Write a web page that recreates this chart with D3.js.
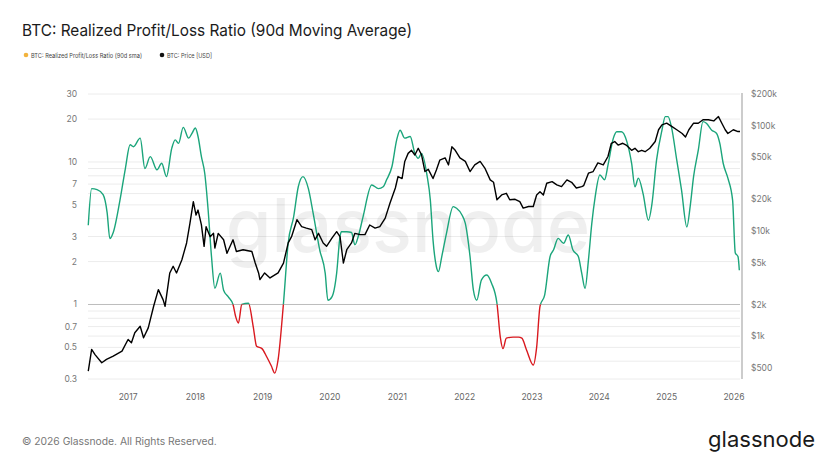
<!DOCTYPE html>
<html>
<head>
<meta charset="utf-8">
<script src="https://cdn.jsdelivr.net/npm/d3@7"></script>
<style>
  body { margin: 0; background: #fff; }
  svg { display: block; font-family: Inter, "Noto Sans", sans-serif; }
</style>
</head>
<body>
<script>
// values: [decimal year, value]
var ratioSeries = [
  [2016.41, 3.6], [2016.46, 6.5], [2016.54, 6.4], [2016.63, 5.9], [2016.69, 4.4], [2016.73, 2.9],
  [2016.78, 3.2], [2016.88, 5.4], [2016.96, 9.0], [2017.03, 13.2], [2017.08, 12.8], [2017.18, 14.7],
  [2017.25, 9.0], [2017.33, 10.9], [2017.43, 8.8], [2017.50, 9.8], [2017.57, 7.9], [2017.65, 12.5],
  [2017.70, 14.3], [2017.75, 13.5], [2017.82, 17.5], [2017.90, 14.7], [2017.95, 15.9], [2018.00, 17.3],
  [2018.04, 15.1], [2018.09, 10.9], [2018.14, 8.3], [2018.19, 4.6], [2018.24, 2.17], [2018.29, 1.3],
  [2018.37, 1.66], [2018.42, 1.26], [2018.49, 1.13], [2018.56, 1.0], [2018.60, 0.82], [2018.64, 0.74],
  [2018.69, 1.0], [2018.79, 1.02], [2018.86, 0.70], [2018.91, 0.51], [2018.99, 0.49], [2019.06, 0.43],
  [2019.13, 0.37], [2019.18, 0.33], [2019.23, 0.41], [2019.31, 1.02], [2019.38, 2.7], [2019.46, 4.1],
  [2019.53, 6.7], [2019.60, 7.9], [2019.68, 6.5], [2019.75, 4.4], [2019.85, 2.4], [2019.93, 1.66],
  [2019.97, 1.07], [2020.03, 1.13], [2020.10, 1.66], [2020.15, 3.0], [2020.17, 3.24], [2020.25, 3.24],
  [2020.32, 3.2], [2020.37, 2.62], [2020.42, 3.0], [2020.49, 4.1], [2020.62, 6.9], [2020.72, 6.5],
  [2020.79, 6.7], [2020.84, 7.5], [2020.92, 9.3], [2020.99, 14.3], [2021.04, 16.7], [2021.11, 14.7],
  [2021.19, 15.1], [2021.26, 11.5], [2021.31, 10.6], [2021.36, 11.5], [2021.44, 8.1], [2021.49, 5.4],
  [2021.53, 2.83], [2021.58, 1.84], [2021.61, 1.7], [2021.66, 2.17], [2021.73, 3.16], [2021.83, 4.86],
  [2021.88, 4.73], [2021.96, 4.25], [2022.01, 3.71], [2022.08, 2.17], [2022.13, 1.26], [2022.18, 1.07],
  [2022.25, 1.49], [2022.33, 1.61], [2022.40, 1.41], [2022.48, 1.02], [2022.53, 0.59], [2022.57, 0.49],
  [2022.62, 0.58], [2022.72, 0.59], [2022.80, 0.59], [2022.85, 0.58], [2022.92, 0.48], [2023.02, 0.376],
  [2023.07, 0.5], [2023.12, 0.97], [2023.19, 1.17], [2023.27, 2.17], [2023.32, 2.41], [2023.39, 2.91],
  [2023.47, 2.69], [2023.54, 3.07], [2023.61, 2.41], [2023.69, 2.17], [2023.74, 1.66], [2023.79, 1.3],
  [2023.84, 2.05], [2023.89, 3.71], [2023.94, 5.7], [2024.01, 8.1], [2024.08, 7.5], [2024.13, 9.5],
  [2024.21, 14.7], [2024.26, 16.3], [2024.33, 16.3], [2024.41, 13.9], [2024.48, 9.8], [2024.53, 6.7],
  [2024.58, 7.7], [2024.65, 6.0], [2024.73, 3.9], [2024.78, 5.0], [2024.85, 10.3], [2024.93, 16.7],
  [2024.98, 20.8], [2025.02, 20.8], [2025.07, 17.7], [2025.15, 10.3], [2025.22, 6.4], [2025.30, 3.5],
  [2025.35, 4.9], [2025.40, 7.9], [2025.47, 12.1], [2025.54, 19.2], [2025.59, 18.7], [2025.67, 16.7],
  [2025.74, 15.9], [2025.79, 13.5], [2025.84, 9.8], [2025.91, 7.7], [2025.98, 5.4], [2026.02, 2.3],
  [2026.06, 2.17], [2026.08, 1.74]
];

var priceSeries = [
  [2016.41, 466], [2016.46, 750], [2016.51, 670], [2016.61, 561], [2016.68, 603], [2016.78, 647],
  [2016.91, 722], [2017.00, 933], [2017.05, 867], [2017.10, 1080], [2017.18, 1245], [2017.23, 968],
  [2017.30, 1203], [2017.38, 1927], [2017.45, 2775], [2017.52, 2230], [2017.55, 1927], [2017.62, 3995],
  [2017.67, 4620], [2017.72, 3995], [2017.80, 5335], [2017.87, 7700], [2017.92, 11900], [2017.97, 19000],
  [2018.01, 14160], [2018.04, 15800], [2018.09, 11450], [2018.13, 7150], [2018.16, 11000], [2018.22, 8830],
  [2018.27, 9500], [2018.29, 6890], [2018.34, 9500], [2018.42, 8250], [2018.47, 6150], [2018.56, 8250],
  [2018.61, 6380], [2018.71, 6640], [2018.84, 6380], [2018.89, 4960], [2018.94, 3995], [2018.96, 3450],
  [2019.03, 3995], [2019.11, 3580], [2019.23, 3995], [2019.31, 4960], [2019.38, 7700], [2019.43, 8830],
  [2019.51, 12800], [2019.58, 11000], [2019.65, 10650], [2019.73, 10300], [2019.78, 8250], [2019.83, 9500],
  [2019.90, 7700], [2019.95, 7150], [2020.03, 8560], [2020.10, 9860], [2020.15, 8830], [2020.20, 4960],
  [2020.25, 6640], [2020.32, 7700], [2020.37, 9500], [2020.45, 9230], [2020.52, 9230], [2020.59, 11400],
  [2020.67, 10650], [2020.74, 11000], [2020.82, 13250], [2020.89, 18350], [2020.97, 25600], [2021.01, 32900],
  [2021.07, 31500], [2021.11, 45800], [2021.16, 54600], [2021.21, 58400], [2021.26, 52700], [2021.31, 61000],
  [2021.36, 52700], [2021.41, 36700], [2021.46, 38500], [2021.53, 31500], [2021.58, 38000], [2021.63, 47000],
  [2021.71, 49500], [2021.76, 42400], [2021.81, 63000], [2021.86, 58400], [2021.93, 49500], [2022.01, 45800],
  [2022.08, 36700], [2022.15, 42400], [2022.23, 45800], [2022.30, 39600], [2022.38, 30600], [2022.43, 29000],
  [2022.48, 19800], [2022.55, 22000], [2022.62, 22800], [2022.67, 19800], [2022.75, 20000], [2022.82, 19000],
  [2022.87, 16500], [2022.95, 17100], [2023.02, 17100], [2023.07, 22000], [2023.12, 23600], [2023.17, 22000],
  [2023.22, 28400], [2023.30, 29400], [2023.37, 27400], [2023.44, 26400], [2023.52, 30600], [2023.59, 29000],
  [2023.66, 25600], [2023.74, 26400], [2023.77, 27000], [2023.84, 35400], [2023.91, 36700], [2023.98, 44300],
  [2024.06, 42400], [2024.13, 51000], [2024.18, 68100], [2024.23, 70700], [2024.28, 65500], [2024.35, 68100],
  [2024.40, 65500], [2024.48, 58400], [2024.53, 61000], [2024.58, 56600], [2024.63, 58400], [2024.68, 56600],
  [2024.75, 61000], [2024.83, 70700], [2024.88, 91500], [2024.93, 102000], [2025.00, 105600], [2025.08, 98000],
  [2025.15, 91500], [2025.23, 84300], [2025.28, 78000], [2025.33, 91500], [2025.40, 105600], [2025.47, 105600],
  [2025.54, 113800], [2025.62, 113800], [2025.70, 111000], [2025.77, 122000], [2025.82, 105600], [2025.87, 91500],
  [2025.91, 84300], [2025.99, 91500], [2026.06, 88000], [2026.09, 88000]
];

var yearTicks = [2017, 2018, 2019, 2020, 2021, 2022, 2023, 2024, 2025, 2026];
var ratioTicks = [30, 20, 10, 7, 5, 3, 2, 1, 0.7, 0.5, 0.3];
var priceTicks = [200000, 100000, 50000, 20000, 10000, 5000, 2000, 1000, 500];
var priceLabels = ["$200k", "$100k", "$50k", "$20k", "$10k", "$5k", "$2k", "$1k", "$500"];

function fromYear(f) {
  var y = Math.floor(f);
  var s = Date.UTC(y, 0, 1), e = Date.UTC(y + 1, 0, 1);
  return new Date(s + (f - y) * (e - s));
}

var W = 828, H = 466;
var plotL = 88, plotR = 740, plotT = 94, plotB = 379;

var svg = d3.select("body").append("svg")
  .attr("width", W)
  .attr("height", H);

var x = d3.scaleUtc()
  .domain([fromYear(2016.406), fromYear(2026.09)])
  .range([plotL, plotR]);

var yRatio = d3.scaleLog()
  .domain([0.3, 30])
  .range([plotB, plotT]);

var yPrice = d3.scaleLog()
  .domain([393, 200000])
  .range([plotB, plotT]);

// title + legend
svg.append("text")
  .attr("x", 22).attr("y", 36)
  .attr("font-size", 16.5)
  .attr("fill", "#1b1b1b")
  .attr("textLength", 390)
  .attr("lengthAdjust", "spacingAndGlyphs")
  .text("BTC: Realized Profit/Loss Ratio (90d Moving Average)");

svg.append("circle").attr("cx", 26).attr("cy", 55).attr("r", 2.3).attr("fill", "#f2b33d");
svg.append("text").attr("x", 31).attr("y", 57.5).attr("font-size", 6.8).attr("fill", "#444")
  .attr("textLength", 111).attr("lengthAdjust", "spacingAndGlyphs")
  .text("BTC: Realized Profit/Loss Ratio (90d sma)");
svg.append("circle").attr("cx", 162).attr("cy", 55).attr("r", 2.3).attr("fill", "#111");
svg.append("text").attr("x", 167).attr("y", 57.5).attr("font-size", 6.8).attr("fill", "#444")
  .attr("textLength", 45).attr("lengthAdjust", "spacingAndGlyphs")
  .text("BTC: Price [USD]");

// grid
svg.append("g").selectAll("line")
  .data(yRatio.ticks())
  .enter().append("line")
  .attr("x1", plotL).attr("x2", plotR)
  .attr("y1", function (d) { return yRatio(d); })
  .attr("y2", function (d) { return yRatio(d); })
  .attr("stroke", "#ececec")
  .attr("stroke-width", 1);

// watermark
svg.append("text")
  .attr("x", 408).attr("y", 252)
  .attr("text-anchor", "middle")
  .attr("font-size", 74)
  .attr("font-weight", 500)
  .attr("fill", "#000")
  .attr("opacity", 0.06)
  .text("glassnode");

svg.append("line")
  .attr("x1", plotL).attr("x2", plotR)
  .attr("y1", yRatio(1)).attr("y2", yRatio(1))
  .attr("stroke", "#bdbdbd");

// left axis labels
svg.selectAll(".rt")
  .data(ratioTicks)
  .enter().append("text")
  .attr("x", 77)
  .attr("y", function (d) { return yRatio(d) + 3; })
  .attr("text-anchor", "end")
  .attr("font-size", 8.5)
  .attr("fill", "#777")
  .text(function (d) { return d; });

// right axis
svg.append("line")
  .attr("x1", 742).attr("x2", 742)
  .attr("y1", plotT - 1).attr("y2", plotB)
  .attr("stroke", "#999");

svg.selectAll(".pt")
  .data(priceTicks)
  .enter().append("text")
  .attr("x", 751)
  .attr("y", function (d) { return yPrice(d) + 3; })
  .attr("font-size", 8.5)
  .attr("fill", "#777")
  .text(function (d, i) { return priceLabels[i]; });

// x axis labels
svg.selectAll(".yt")
  .data(yearTicks)
  .enter().append("text")
  .attr("x", function (d) { return x(fromYear(d)); })
  .attr("y", 400)
  .attr("text-anchor", "middle")
  .attr("font-size", 8.5)
  .attr("fill", "#666")
  .text(function (d) { return d; });

// ratio line: green above 1, red below
var defs = svg.append("defs");
defs.append("clipPath").attr("id", "above")
  .append("rect").attr("x", plotL - 5).attr("y", 0).attr("width", plotR - plotL + 10).attr("height", yRatio(1));
defs.append("clipPath").attr("id", "below")
  .append("rect").attr("x", plotL - 5).attr("y", yRatio(1)).attr("width", plotR - plotL + 10).attr("height", H);

var ratioLine = d3.line()
  .x(function (d) { return x(fromYear(d[0])); })
  .y(function (d) { return yRatio(d[1]); })
  .curve(d3.curveMonotoneX);

svg.append("path")
  .datum(ratioSeries)
  .attr("d", ratioLine)
  .attr("clip-path", "url(#above)")
  .attr("fill", "none")
  .attr("stroke", "#1ba57b")
  .attr("stroke-width", 1.4);

svg.append("path")
  .datum(ratioSeries)
  .attr("d", ratioLine)
  .attr("clip-path", "url(#below)")
  .attr("fill", "none")
  .attr("stroke", "#d9191f")
  .attr("stroke-width", 1.4);

var priceLine = d3.line()
  .x(function (d) { return x(fromYear(d[0])); })
  .y(function (d) { return yPrice(d[1]); });

svg.append("path")
  .datum(priceSeries)
  .attr("d", priceLine)
  .attr("fill", "none")
  .attr("stroke", "#000")
  .attr("stroke-width", 1.4)
  .attr("stroke-linejoin", "round");

// footer
svg.append("text")
  .attr("x", 22).attr("y", 445)
  .attr("font-size", 10.3)
  .attr("fill", "#777")
  .text("© 2026 Glassnode. All Rights Reserved.");

svg.append("text")
  .attr("x", 815).attr("y", 447)
  .attr("text-anchor", "end")
  .attr("font-size", 22)
  .attr("fill", "#1a1a1a")
  .text("glassnode");
</script>
</body>
</html>
